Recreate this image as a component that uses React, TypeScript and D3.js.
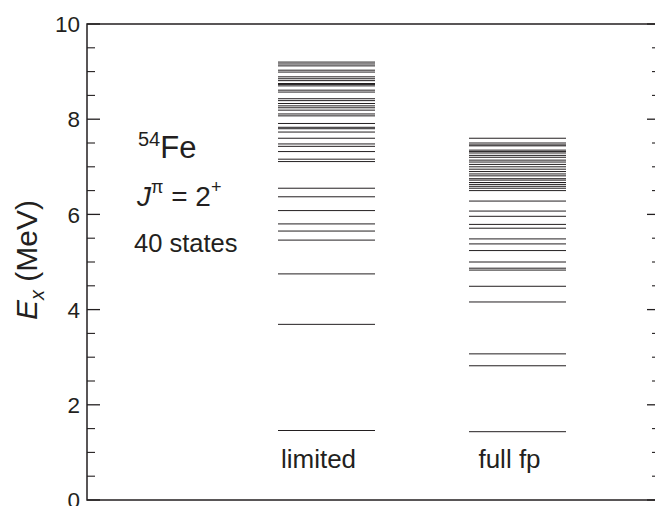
import React from "react";
import * as d3 from "d3";

const categories = ["limited", "full fp"];

const limitedLevels = [
  1.46, 3.69, 4.75, 5.46, 5.65, 5.80, 6.08, 6.37, 6.55, 7.11,
  7.16, 7.32, 7.43, 7.48, 7.60, 7.73, 7.80, 7.83, 7.91, 8.07,
  8.11, 8.19, 8.24, 8.28, 8.33, 8.39, 8.43, 8.57, 8.61, 8.70,
  8.73, 8.75, 8.81, 8.85, 8.89, 8.99, 9.03, 9.12, 9.16, 9.20,
];

const fullFpLevels = [
  1.435, 2.82, 3.07, 4.16, 4.49, 4.83, 4.87, 5.00, 5.24, 5.38,
  5.485, 5.71, 5.79, 5.96, 6.07, 6.28, 6.50, 6.55, 6.59, 6.63,
  6.67, 6.72, 6.75, 6.81, 6.85, 6.90, 6.95, 7.00, 7.05, 7.10,
  7.14, 7.20, 7.24, 7.29, 7.32, 7.35, 7.44, 7.46, 7.50, 7.60,
];

const majorTicks = [0, 2, 4, 6, 8, 10];
const minorTicks = [0.5, 1, 1.5, 2.5, 3, 3.5, 4.5, 5, 5.5, 6.5, 7, 7.5, 8.5, 9, 9.5];

const FONT = "'Liberation Sans', Arial, Helvetica, sans-serif";
const INK = "#231f20";

export default function App() {
  const W = 655;
  const H = 506;
  const left = 87;
  const right = 660;
  const top = 24;
  const bottom = 500;

  const y = d3.scaleLinear().domain([0, 10]).range([bottom, top]);
  const x = d3.scalePoint<string>().domain(categories).range([326.5, 517.5]);
  const halfW = 48.5;

  const series = [limitedLevels, fullFpLevels];

  return (
    <div style={{ position: "absolute", left: 0, top: 0 }}>
      <svg width={W} height={H} style={{ display: "block", background: "#fff" }} fontFamily={FONT}>
        <rect x={left} y={top} width={right - left} height={bottom - top} fill="none" stroke={INK} strokeWidth={1.5} />
        {majorTicks.map((t) => (
          <g key={"M" + t}>
            <line x1={left} x2={left + 13} y1={y(t)} y2={y(t)} stroke={INK} strokeWidth={1.3} />
            <line x1={right} x2={right - 13} y1={y(t)} y2={y(t)} stroke={INK} strokeWidth={1.3} />
            <text x={80} y={y(t)} dy="0.36em" textAnchor="end" fontSize={22.5} fill={INK}>
              {t}
            </text>
          </g>
        ))}
        {minorTicks.map((t) => (
          <g key={"m" + t}>
            <line x1={left} x2={left + 8} y1={y(t)} y2={y(t)} stroke={INK} strokeWidth={1.1} />
            <line x1={right} x2={right - 8} y1={y(t)} y2={y(t)} stroke={INK} strokeWidth={1.1} />
          </g>
        ))}
        <text transform={`translate(37,${260}) rotate(-90)`} textAnchor="middle" fontSize={30} fill={INK}>
          <tspan fontStyle="italic">E</tspan>
          <tspan fontStyle="italic" fontSize={20} dy={7}>x</tspan>
          <tspan dy={-7}> (MeV)</tspan>
        </text>
        {categories.map((c, i) => (
          <g key={c}>
            {series[i].map((v, j) => (
              <line
                key={j}
                x1={(x(c) as number) - halfW}
                x2={(x(c) as number) + halfW}
                y1={y(v)}
                y2={y(v)}
                stroke={INK}
                strokeWidth={1}
              />
            ))}
            <text x={(x(c) as number) - 8} y={y(0) - 32} textAnchor="middle" fontSize={26} fill={INK}>
              {c}
            </text>
          </g>
        ))}
        <text x={138} y={158} fontSize={31} fill={INK}>
          <tspan fontSize={20} dy={-12}>54</tspan>
          <tspan dy={12}>Fe</tspan>
        </text>
        <text x={137} y={206} fontSize={28} fill={INK}>
          <tspan fontStyle="italic">J</tspan>
          <tspan fontSize={18} dy={-13}>π</tspan>
          <tspan dy={13}> = 2</tspan>
          <tspan fontSize={18} dy={-13}>+</tspan>
        </text>
        <text x={134} y={252} fontSize={25.5} fill={INK}>
          40 states
        </text>
      </svg>
    </div>
  );
}
